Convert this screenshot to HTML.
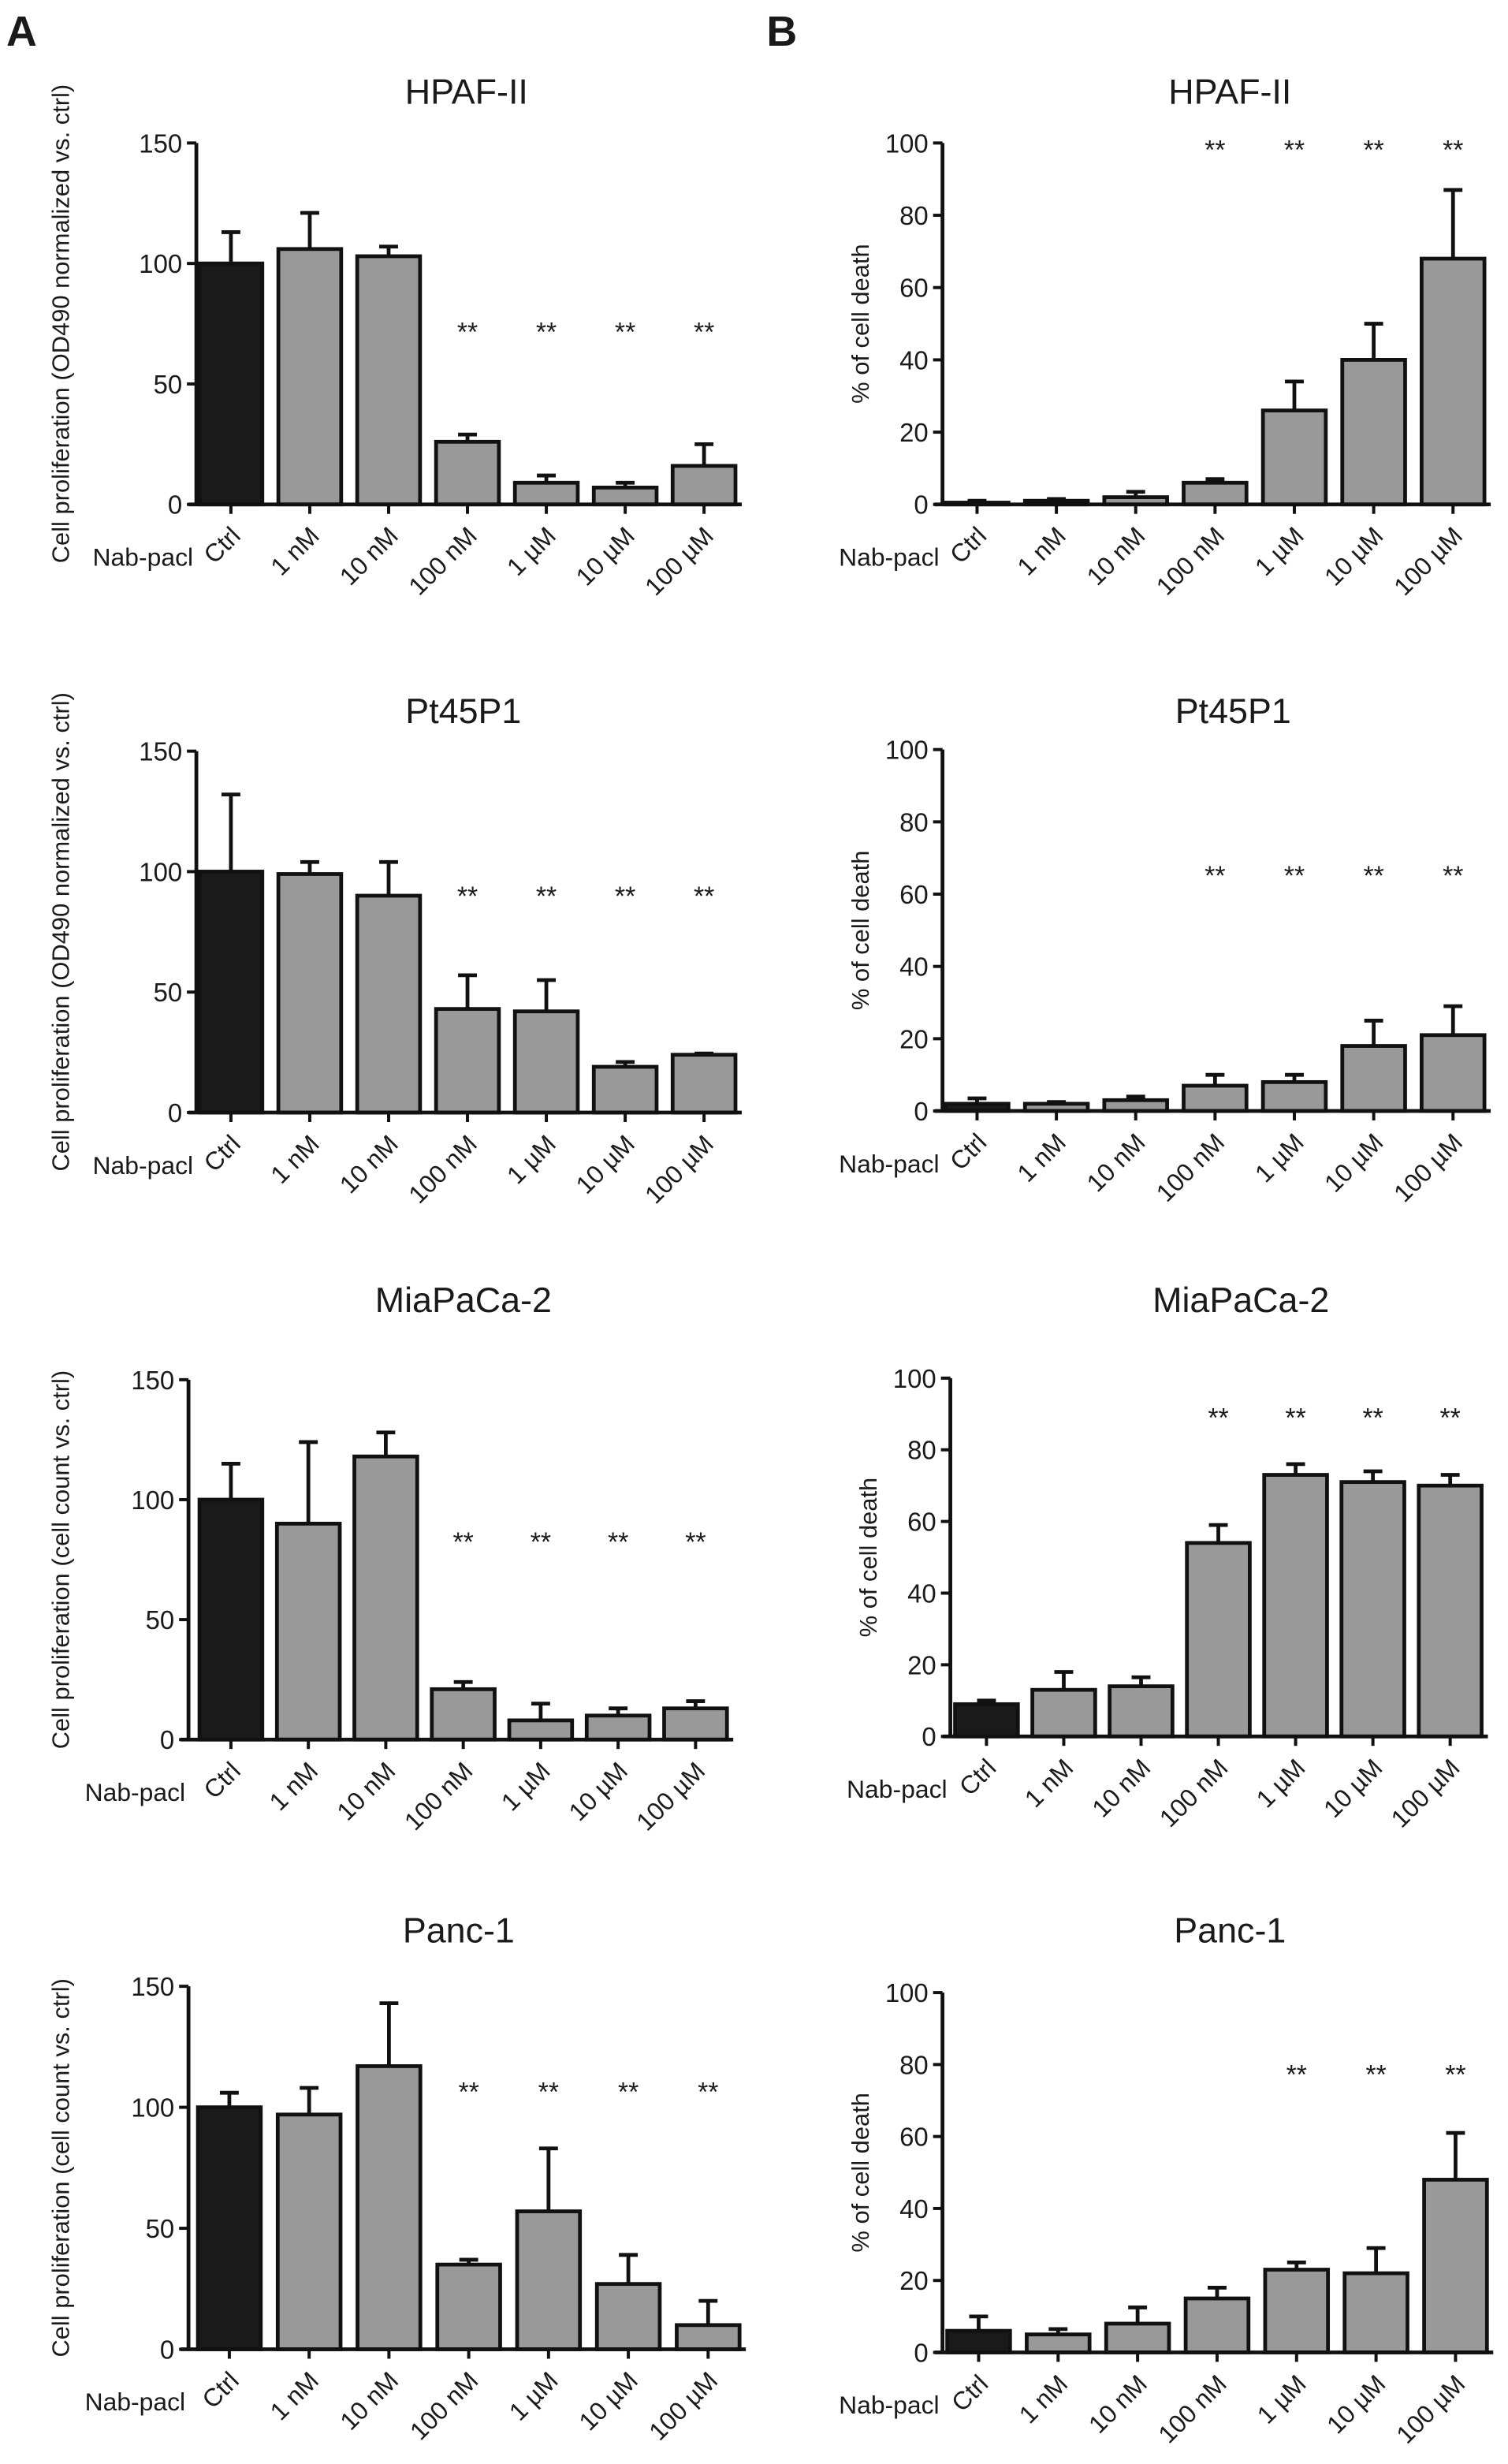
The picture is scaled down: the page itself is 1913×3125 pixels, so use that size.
<!DOCTYPE html>
<html><head><meta charset="utf-8"><style>
html,body{margin:0;padding:0;background:#fff}
svg{display:block}
text{font-family:"Liberation Sans",Arial,sans-serif;fill:#1a1a1a}
</style></head><body>
<svg id="fig" width="1913" height="3125" viewBox="0 0 960 1568" preserveAspectRatio="none" xmlns="http://www.w3.org/2000/svg">
<text x="4" y="29" font-size="27" font-weight="bold">A</text>
<text x="488" y="29" font-size="27" font-weight="bold">B</text>
</svg>
<script>
const categories = ["Ctrl","1 nM","10 nM","100 nM","1 \u00b5M","10 \u00b5M","100 \u00b5M"];
const hpafProlif = [100,106,103,26,9,7,16];
const hpafProlifErr = [113,121,107,29,12,9,25];
const pt45Prolif = [100,99,90,43,42,19,24];
const pt45ProlifErr = [132,104,104,57,55,21,24.5];
const miaProlif = [100,90,118,21,8,10,13];
const miaProlifErr = [115,124,128,24,15,13,16];
const pancProlif = [100,97,117,35,57,27,10];
const pancProlifErr = [106,108,143,37,83,39,20];
const hpafDeath = [0.5,1,2,6,26,40,68];
const hpafDeathErr = [1,1.5,3.5,7,34,50,87];
const pt45Death = [2,2,3,7,8,18,21];
const pt45DeathErr = [3.5,2.5,4,10,10,25,29];
const miaDeath = [9,13,14,54,73,71,70];
const miaDeathErr = [10,18,16.5,59,76,74,73];
const pancDeath = [6,5,8,15,23,22,48];
const pancDeathErr = [10,6.5,12.5,18,25,29,61];
const sigA = [false,false,false,true,true,true,true];
const sigBpanc = [false,false,false,false,true,true,true];
const ticksA = [0,50,100,150];
const ticksB = [0,20,40,60,80,100];

const panels = [
 {name:"hpaf-prolif",title:"HPAF-II",v:hpafProlif,e:hpafProlifErr,sig:sigA,ax:125,y0:321,yt:91,max:150,ticks:ticksA,ylab:"Cell proliferation (OD490 normalized vs. ctrl)",labx:44,tx:297,ty:66,stary:217,x1:147,dx:50.2},
 {name:"pt45-prolif",title:"Pt45P1",v:pt45Prolif,e:pt45ProlifErr,sig:sigA,ax:125,y0:708,yt:478,max:150,ticks:ticksA,ylab:"Cell proliferation (OD490 normalized vs. ctrl)",labx:44,tx:295,ty:460,stary:576,x1:147,dx:50.2},
 {name:"mia-prolif",title:"MiaPaCa-2",v:miaProlif,e:miaProlifErr,sig:sigA,ax:120,y0:1107,yt:878,max:150,ticks:ticksA,ylab:"Cell proliferation (cell count vs. ctrl)",labx:44,tx:295,ty:835,stary:987,x1:147,dx:49.3},
 {name:"panc-prolif",title:"Panc-1",v:pancProlif,e:pancProlifErr,sig:sigA,ax:120,y0:1495,yt:1264,max:150,ticks:ticksA,ylab:"Cell proliferation (cell count vs. ctrl)",labx:44,tx:292,ty:1236,stary:1337,x1:146,dx:50.8},
 {name:"hpaf-death",title:"HPAF-II",v:hpafDeath,e:hpafDeathErr,sig:sigA,ax:600,y0:321,yt:91,max:100,ticks:ticksB,ylab:"% of cell death",labx:553,tx:783,ty:66,stary:101,x1:622,dx:50.5},
 {name:"pt45-death",title:"Pt45P1",v:pt45Death,e:pt45DeathErr,sig:sigA,ax:600,y0:707,yt:477,max:100,ticks:ticksB,ylab:"% of cell death",labx:553,tx:785,ty:460,stary:563,x1:622,dx:50.5},
 {name:"mia-death",title:"MiaPaCa-2",v:miaDeath,e:miaDeathErr,sig:sigA,ax:605,y0:1105,yt:877,max:100,ticks:ticksB,ylab:"% of cell death",labx:558,tx:790,ty:835,stary:908,x1:628,dx:49.2},
 {name:"panc-death",title:"Panc-1",v:pancDeath,e:pancDeathErr,sig:sigBpanc,ax:600,y0:1497,yt:1268,max:100,ticks:ticksB,ylab:"% of cell death",labx:553,tx:783,ty:1236,stary:1326,x1:623,dx:50.6}
];
const NS="http://www.w3.org/2000/svg";
const svg=document.getElementById('fig');
function mk(tag,attrs,parent){const el=document.createElementNS(NS,tag);for(const k in attrs)el.setAttribute(k,attrs[k]);(parent||svg).appendChild(el);return el;}
panels.forEach(p=>{
 const g=mk('g',{});
 
 
 const yS=v=>p.y0-(v/p.max)*(p.y0-p.yt);
 const xS=i=>p.x1+i*p.dx;
 const t=mk('text',{x:p.tx,y:p.ty,'font-size':22.5,'text-anchor':'middle'},g);t.textContent=p.title;
 
 
 const cy=(p.y0+p.yt)/2;
 const yl=mk('text',{x:p.labx,y:cy,'font-size':15.5,'text-anchor':'middle',transform:`rotate(-90 ${p.labx} ${cy})`},g);yl.textContent=p.ylab;
 
 
 p.v.forEach((v,i)=>{
  const cx=xS(i),w=40;
  const eb=mk('path',{d:`M${cx} ${yS(v)}V${yS(p.e[i])}M${cx-6} ${yS(p.e[i])}H${cx+6}`,stroke:'#111','stroke-width':2.4,fill:'none'},g);
  
  
  const r=mk('rect',{x:cx-w/2,y:yS(v),width:w,height:p.y0-yS(v),fill:i===0?'#1a1a1a':'#999','stroke':'#111','stroke-width':2.4},g);
  
  
  if(p.sig[i]){const s=mk('text',{x:cx,y:p.stary,'font-size':17,'text-anchor':'middle'},g);s.textContent='**';
   
   }
  mk('line',{x1:cx,x2:cx,y1:p.y0,y2:p.y0+6,stroke:'#111','stroke-width':2},g);
  const lx=cx+7,ly=p.y0+21;
  const xl=mk('text',{x:lx,y:ly,'font-size':16,'text-anchor':'end',transform:`rotate(-45 ${lx} ${ly})`},g);xl.textContent=categories[i];
  
  
 });
 const axis=mk('path',{d:`M${p.ax} ${p.yt}V${p.y0}M${p.ax-5} ${p.y0}H${xS(6)+24}`,stroke:'#111','stroke-width':2.4,fill:'none'},g);
 
 
 p.ticks.forEach(tv=>{
  mk('line',{x1:p.ax-6,x2:p.ax,y1:yS(tv),y2:yS(tv),stroke:'#111','stroke-width':2},g);
  const tl=mk('text',{x:p.ax-9,y:yS(tv)+6,'font-size':16.5,'text-anchor':'end'},g);tl.textContent=tv;
  
  
 });
 const nb=mk('text',{x:p.ax-2,y:p.y0+39,'font-size':16,'text-anchor':'end'},g);nb.textContent='Nab-pacl';
 
 
});
</script>
</body></html>
